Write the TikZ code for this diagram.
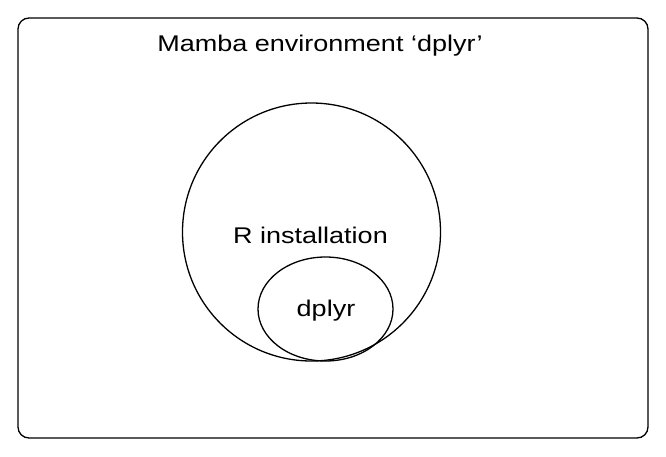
\documentclass[tikz,border=0pt]{standalone}
\usepackage{graphicx}
\usepackage{fontspec}
\setmainfont{Liberation Sans}
\usetikzlibrary{shapes.geometric}
\newcommand{\widetext}[1]{\scalebox{1.19}[1]{#1}}
\begin{document}
\begin{tikzpicture}[x=1pt,y=-1pt,
  outline/.style={draw=black,line width=1.3pt},
  lbl/.style={font=\fontsize{22.7}{26}\selectfont,inner sep=0pt,anchor=base}]
\useasboundingbox (0,0) rectangle (666,456);
\draw[outline,rounded corners=11pt] (18,18) rectangle (648,438);
\node[outline,circle,minimum size=258pt,inner sep=0pt] (rinst) at (311.5,232) {};
\node[outline,ellipse,minimum width=135pt,minimum height=104pt,inner sep=0pt] (pkg) at (325.5,309) {};
\node[lbl] (title) at (320,51.3) {\widetext{Mamba environment ‘dplyr’}};
\node[lbl] (rlabel) at (310.5,243.7) {\widetext{R installation}};
\node[lbl] (plabel) at (326,316) {\widetext{dplyr}};
\end{tikzpicture}
\end{document}
